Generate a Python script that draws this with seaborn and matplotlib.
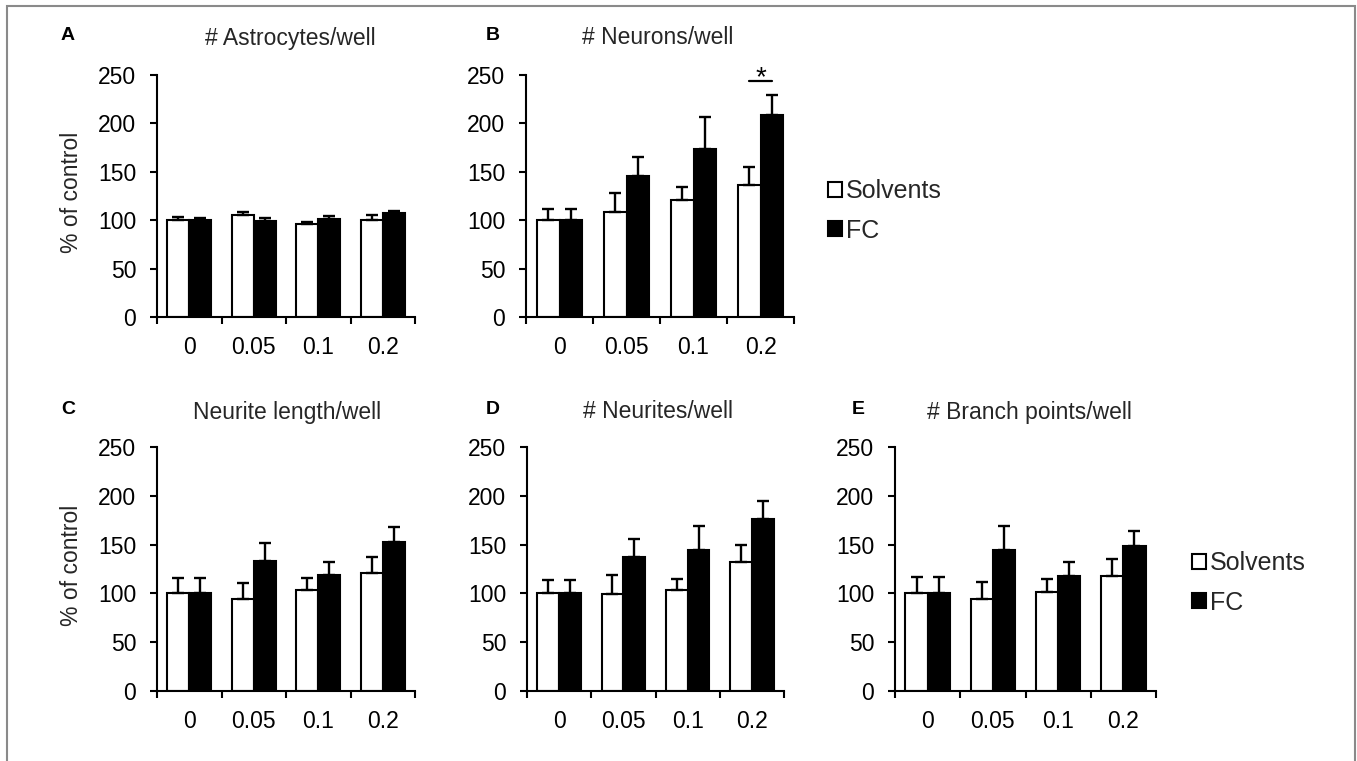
import numpy as np
import pandas as pd
import matplotlib
matplotlib.use("Agg")
import matplotlib.pyplot as plt
from matplotlib.patches import Rectangle
import seaborn as sns

# ---------------- data ----------------
concentrations = ["0", "0.05", "0.1", "0.2"]
groups = ["Solvents", "FC"]

titles = ["# Astrocytes/well", "# Neurons/well", "Neurite length/well",
          "# Neurites/well", "# Branch points/well"]
letters = ["A", "B", "C", "D", "E"]

astro_solv = [100, 105, 96.5, 100.5]
astro_solv_err = [2.8, 3.5, 2.0, 5.0]
astro_fc = [100, 99.5, 101.5, 107]
astro_fc_err = [2.5, 2.5, 2.5, 3.0]

neur_solv = [100, 108.5, 120.5, 136.5]
neur_solv_err = [11.5, 19.5, 13.5, 18.5]
neur_fc = [100, 145.5, 174, 209]
neur_fc_err = [11.5, 20, 33, 20]

len_solv = [100, 94.5, 103, 121]
len_solv_err = [16, 16.5, 12.5, 16]
len_fc = [100, 133.5, 118.5, 153]
len_fc_err = [16, 18.5, 14, 15]

nrt_solv = [100, 99, 103, 132]
nrt_solv_err = [13.7, 19.5, 12, 18]
nrt_fc = [100, 137, 144, 176]
nrt_fc_err = [13.7, 18.5, 25, 18.5]

br_solv = [100, 94.5, 101.5, 118]
br_solv_err = [17, 17, 13.5, 17]
br_fc = [100, 144, 118, 148.5]
br_fc_err = [17, 25, 14, 15.5]

yticks = [0, 50, 100, 150, 200, 250]

panels = [
    (astro_solv, astro_solv_err, astro_fc, astro_fc_err),
    (neur_solv, neur_solv_err, neur_fc, neur_fc_err),
    (len_solv, len_solv_err, len_fc, len_fc_err),
    (nrt_solv, nrt_solv_err, nrt_fc, nrt_fc_err),
    (br_solv, br_solv_err, br_fc, br_fc_err),
]

# ---------------- style ----------------
sns.set_theme(style="ticks")
plt.rcParams["font.family"] = ["Liberation Sans", "DejaVu Sans"]

W, H = 1357, 761
fig = plt.figure(figsize=(W / 100, H / 100), dpi=100)
fig.patch.set_facecolor("white")

def px(x0, x1, ytop, ybot):
    return [x0 / W, 1 - ybot / H, (x1 - x0) / W, (ybot - ytop) / H]

boxes = [
    px(157, 415, 75, 317),
    px(526, 794, 75, 317),
    px(157, 415, 447, 691),
    px(527, 784, 447, 691),
    px(895, 1156, 447, 691),
]
title_pos = [(290, 39), (658, 38), (287, 412), (658, 412), (1029, 412)]
letter_pos = [(68, 35), (493, 35), (68, 410), (493, 410), (858, 410)]

palette = {"Solvents": "white", "FC": "black"}
text_grey = "#262626"

axes = []
for i, (s, se, f, fe) in enumerate(panels):
    ax = fig.add_axes(boxes[i])
    axes.append(ax)
    df = pd.DataFrame({
        "conc": concentrations * 2,
        "group": ["Solvents"] * 4 + ["FC"] * 4,
        "value": list(s) + list(f),
    })
    sns.barplot(data=df, x="conc", y="value", hue="group",
                order=concentrations, hue_order=groups, palette=palette,
                edgecolor="black", linewidth=1.5, width=0.68,
                errorbar=None, legend=False, ax=ax)
    errs = [se, fe]
    for cont, err in zip(ax.containers, errs):
        xs = [p.get_x() + p.get_width() / 2 for p in cont.patches]
        hs = [p.get_height() for p in cont.patches]
        ax.errorbar(xs, hs, yerr=[np.zeros(len(err)), err], fmt="none",
                    ecolor="black", elinewidth=1.7, capsize=4.5,
                    capthick=1.7, zorder=1)
    ax.set_ylim(0, 250)
    ax.set_yticks(yticks)
    ax.set_yticklabels([str(t) for t in yticks], fontsize=16.5, color="black")
    ax.set_xlim(-0.5, 3.5)
    ax.set_xticks([-0.5, 0.5, 1.5, 2.5, 3.5])
    ax.set_xticklabels([""] * 5)
    ax.set_xticks(range(4), minor=True)
    ax.set_xticklabels(concentrations, minor=True, fontsize=16.5, color="black")
    ax.tick_params(axis="x", which="minor", length=0, pad=14)
    ax.tick_params(axis="x", which="major", length=5, width=1.5, direction="out", color="black")
    ax.tick_params(axis="y", length=5, width=1.5, direction="out", pad=10, color="black")
    ax.set_xlabel("")
    ax.set_ylabel("")
    for sp in ["top", "right"]:
        ax.spines[sp].set_visible(False)
    for sp in ["left", "bottom"]:
        ax.spines[sp].set_linewidth(1.5)
        ax.spines[sp].set_color("black")
    ax.set_facecolor("white")

    tx, ty = title_pos[i]
    fig.text(tx / W, 1 - ty / H, titles[i], ha="center", va="center",
             fontsize=16.5, color=text_grey)
    lx, ly = letter_pos[i]
    fig.text(lx / W, 1 - ly / H, letters[i], ha="center", va="center",
             fontsize=14, fontweight="bold", color="black")

# y labels
for yc in [192, 565]:
    fig.text(71 / W, 1 - yc / H, "% of control", rotation=90, ha="center",
             va="center", fontsize=16.5, color=text_grey)

# significance marker in panel B at 0.2
axB = axes[1]
xw = axB.containers[0].patches[3]
xb = axB.containers[1].patches[3]
x1 = xw.get_x() + xw.get_width() / 2
x2 = xb.get_x() + xb.get_width() / 2
axB.plot([x1, x2], [244, 244], color="black", lw=1.6, clip_on=False)
axB.text((x1 + x2) / 2, 239, "*", ha="center", va="baseline", fontsize=20,
         color="black", clip_on=False)

# legends
for ax, (hx, hy) in [(axes[1], (828, 211)), (axes[4], (1192, 583))]:
    ax.legend(handles=list(ax.containers), labels=groups, loc="center left",
              bbox_to_anchor=(hx / W, 1 - hy / H), bbox_transform=fig.transFigure,
              frameon=False, fontsize=18, handlelength=0.55, handleheight=0.55,
              handletextpad=0.15, labelspacing=0.6, borderpad=0, borderaxespad=0)

# outer frame (open at bottom)
fig.patches.append(Rectangle((7 / W, -0.05), (1355 - 7) / W, 1.05 - 6 / H,
                             transform=fig.transFigure, fill=False,
                             edgecolor="#8a8a8a", lw=1.5))

fig.savefig("out.png", dpi=100, facecolor="white")
